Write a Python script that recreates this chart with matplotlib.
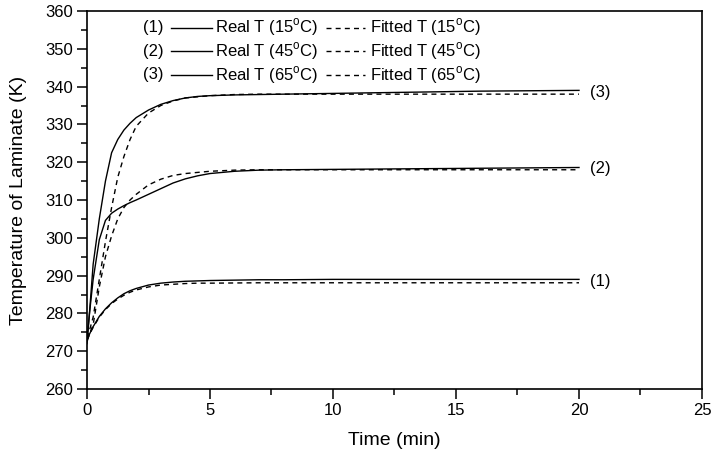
import matplotlib
matplotlib.use("Agg")
import matplotlib.pyplot as plt
from matplotlib.lines import Line2D
from matplotlib.ticker import MultipleLocator

plt.rcParams['font.family'] = ['Liberation Sans', 'DejaVu Sans']

# Time samples (min)
time_min = [0, 0.1, 0.25, 0.5, 0.75, 1, 1.25, 1.5, 1.75, 2, 2.5, 3, 3.5, 4, 4.5,
            5, 6, 7, 8, 10, 12, 14, 16, 18, 20]

# Laminate temperature (K): measured and fitted, three ambient temperatures
real_15 = [272.5, 274.5, 276.5, 279.2, 281.2, 282.8, 284.1, 285.2, 286.0, 286.6,
           287.5, 288.0, 288.3, 288.5, 288.6, 288.7, 288.8, 288.9, 288.9, 289.0,
           289.0, 289.0, 289.0, 289.0, 289.0]
fit_15 = [273.0, 274.5, 276.3, 279.0, 281.0, 282.6, 283.8, 284.8, 285.6, 286.2,
          287.0, 287.5, 287.7, 287.9, 288.0, 288.0, 288.05, 288.1, 288.1, 288.1,
          288.1, 288.1, 288.1, 288.1, 288.1]
real_45 = [272.0, 280.0, 289.0, 299.5, 304.6, 306.5, 307.6, 308.5, 309.3, 310.0,
           311.5, 313.0, 314.5, 315.6, 316.4, 317.0, 317.6, 317.9, 318.0, 318.1,
           318.2, 318.3, 318.4, 318.5, 318.6]
fit_45 = [273.0, 274.5, 277.0, 287.0, 295.0, 300.5, 305.0, 308.0, 310.0, 311.5,
          314.0, 315.5, 316.5, 317.0, 317.3, 317.6, 317.9, 318.0, 318.0, 318.0,
          318.0, 318.0, 318.0, 318.0, 318.0]
real_65 = [273.0, 280.0, 293.0, 305.0, 315.0, 322.5, 326.0, 328.5, 330.3, 331.8,
           333.8, 335.3, 336.3, 337.0, 337.4, 337.6, 337.8, 337.9, 338.0, 338.2,
           338.4, 338.6, 338.8, 338.9, 339.0]
fit_65 = [273.5, 275.5, 279.0, 289.0, 299.0, 308.0, 316.0, 321.5, 326.0, 329.5,
          333.0, 335.0, 336.2, 337.0, 337.3, 337.6, 337.9, 338.0, 338.0, 338.0,
          338.0, 338.0, 338.0, 338.0, 338.0]

curve_tags = ['(1)', '(2)', '(3)']
ambient = ['15', '45', '65']

fig = plt.figure(figsize=(7.13, 4.62), dpi=100)
ax = fig.add_axes([87 / 713, 1 - 389 / 462, 615 / 713, 378 / 462])

dash = (0, (3.6, 3.0))
real_sets = [real_15, real_45, real_65]
fit_sets = [fit_15, fit_45, fit_65]
for tag, r, f in zip(curve_tags, real_sets, fit_sets):
    ax.plot(time_min, r, color='black', lw=1.0, solid_joinstyle='round')
    ax.plot(time_min, f, color='black', lw=1.0, linestyle=dash)
    ax.text(time_min[-1] + 0.45, (r[-1] + f[-1]) / 2, tag, fontsize=12,
            va='center', ha='left')

ax.set_xlim(0, 25)
ax.set_ylim(260, 360)
ax.xaxis.set_major_locator(MultipleLocator(5))
ax.xaxis.set_minor_locator(MultipleLocator(2.5))
ax.yaxis.set_major_locator(MultipleLocator(10))
ax.yaxis.set_minor_locator(MultipleLocator(5))
ax.tick_params(which='major', direction='out', length=7, width=1.1,
               labelsize=12, pad=3)
ax.tick_params(which='minor', direction='out', length=4, width=1.1)
for s in ax.spines.values():
    s.set_linewidth(1.2)

ax.set_xlabel('Time (min)', fontsize=14, labelpad=10)
ax.set_ylabel('Temperature of Laminate (K)', fontsize=14, labelpad=13)

# Inline legend rows: tag, solid sample, measured label, dashed sample, fitted label
deg = r'$^{\mathregular{o}}$'
rows_y = [0.956, 0.894, 0.831]
for tag, amb, yy in zip(curve_tags, ambient, rows_y):
    ax.text(0.091, yy, tag, transform=ax.transAxes, fontsize=12, va='center', ha='left')
    ax.add_line(Line2D([0.137, 0.203], [yy, yy], transform=ax.transAxes,
                       color='black', lw=1.0))
    ax.text(0.208, yy, 'Real T (' + amb + deg + 'C)',
            transform=ax.transAxes, fontsize=12, va='center', ha='left')
    ax.add_line(Line2D([0.389, 0.452], [yy, yy], transform=ax.transAxes,
                       color='black', lw=1.0, linestyle=dash))
    ax.text(0.460, yy, 'Fitted T (' + amb + deg + 'C)',
            transform=ax.transAxes, fontsize=12, va='center', ha='left')

fig.savefig('out.png', dpi=100)
